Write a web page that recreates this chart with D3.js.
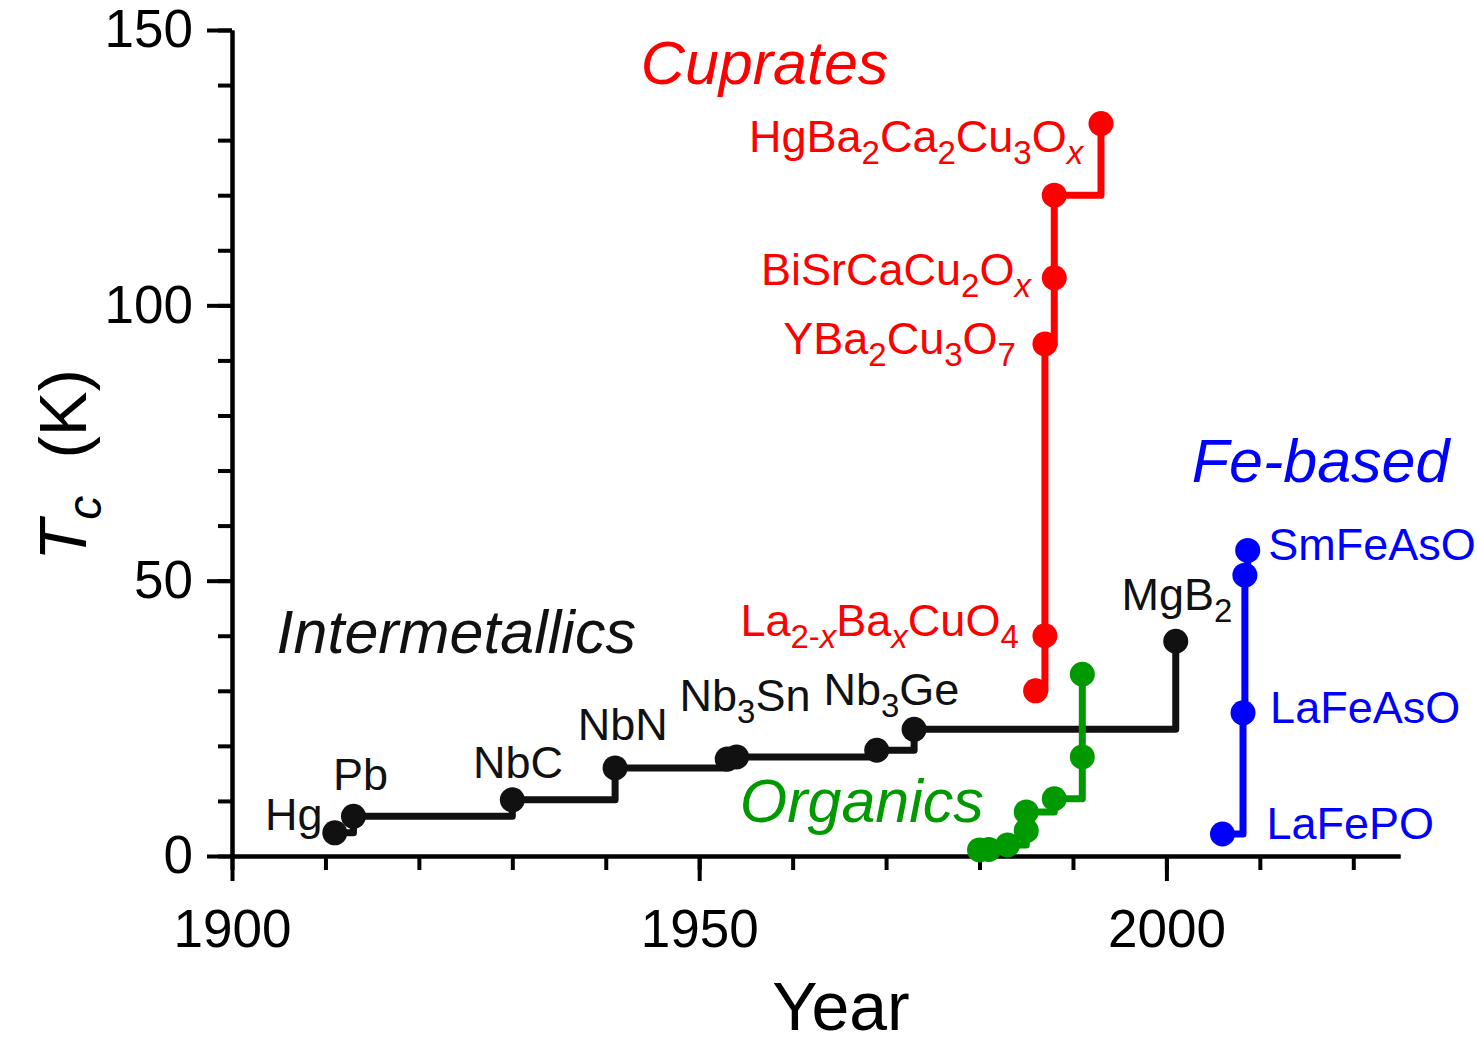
<!DOCTYPE html>
<html>
<head>
<meta charset="utf-8">
<script src="https://cdn.jsdelivr.net/npm/d3@7"></script>
<style>
  html, body { margin: 0; padding: 0; background: #fff; }
  svg text { font-family: "Liberation Sans", Arial, sans-serif; }
</style>
</head>
<body>
<svg id="chart" width="1477" height="1045"></svg>
<script>
// Record superconducting transition temperatures by year of discovery.
const intermetallicYears = [1911, 1913, 1930, 1941, 1953, 1954, 1969, 1973, 2001];
const intermetallicTc    = [4.2, 7.2, 10.2, 16, 17.6, 18, 19.2, 23, 39];

const cuprateYears = [1986, 1987, 1987, 1988, 1988, 1993];
const cuprateTc    = [30, 40, 93, 105, 120, 133];

const organicYears = [1980, 1981, 1983, 1985, 1985, 1988, 1991, 1991];
const organicTc    = [1.1, 1.2, 2, 4.6, 8, 10.4, 18, 33];

const ironYears = [2006, 2008.2, 2008.4, 2008.7];
const ironTc    = [4, 26, 51, 55.5];

const xMajorTicks = [1900, 1950, 2000];
const yMajorTicks = [0, 50, 100, 150];

const svg = d3.select("#chart");

const x = d3.scaleLinear().domain([1900, 2025]).range([232, 1400]);
const y = d3.scaleLinear().domain([0, 150]).range([856, 30]);

const zip = (a, b) => a.map((v, i) => ({ year: v, tc: b[i] }));

// Each material family: its colour, its points
const families = [
  { color: "#111111", pts: zip(intermetallicYears, intermetallicTc) },
  { color: "#ff0000", pts: zip(cuprateYears, cuprateTc) },
  { color: "#009900", pts: zip(organicYears, organicTc) },
  { color: "#0000ff", pts: zip(ironYears, ironTc) }
];

// ---- axes ----
const axisG = svg.append("g");
const xMinor = d3.axisBottom(x).tickValues(d3.range(1900, 2021, 10)).tickSize(14).tickSizeOuter(0).tickFormat("");
const xMajor = d3.axisBottom(x).tickValues(xMajorTicks).tickSize(25).tickSizeOuter(0).tickPadding(28).tickFormat(d3.format("d"));
const yMinor = d3.axisLeft(y).tickValues(d3.range(0, 151, 10)).tickSize(14).tickSizeOuter(0).tickFormat("");
const yMajor = d3.axisLeft(y).tickValues(yMajorTicks).tickSize(25).tickSizeOuter(0).tickPadding(14).tickFormat(d3.format("d"));

function styleAxis(g) {
  g.selectAll("path.domain").attr("stroke", "#000").attr("stroke-width", 4);
  g.selectAll(".tick line").attr("stroke", "#000").attr("stroke-width", 4);
  g.selectAll(".tick text").attr("fill", "#000").attr("font-size", 53)
    .attr("font-family", "'Liberation Sans', Arial, sans-serif");
}
axisG.append("g").attr("transform", `translate(0,${y(0)})`).call(xMinor).call(styleAxis);
axisG.append("g").attr("transform", `translate(0,${y(0)})`).call(xMajor).call(styleAxis);
axisG.append("g").attr("transform", `translate(${x(1900)},0)`).call(yMinor).call(styleAxis);
axisG.append("g").attr("transform", `translate(${x(1900)},0)`).call(yMajor).call(styleAxis);

// axis titles
svg.append("text").attr("x", 841).attr("y", 1030).attr("text-anchor", "middle")
  .attr("font-size", 68).attr("fill", "#000").text("Year");

const yTitle = svg.append("text")
  .attr("transform", "translate(86,465) rotate(-90)")
  .attr("text-anchor", "middle").attr("font-size", 67).attr("fill", "#000");
yTitle.append("tspan").attr("font-style", "italic").text("T");
yTitle.append("tspan").attr("font-style", "italic").attr("font-size", 48).attr("dy", 15).text("c");
yTitle.append("tspan").attr("dy", -15).text("\u00a0\u00a0(K)");

// ---- step lines and markers ----
const line = d3.line().x(d => x(d.year)).y(d => y(d.tc)).curve(d3.curveStepAfter);
const plot = svg.append("g");
families.forEach(f => {
  plot.append("path").datum(f.pts).attr("d", line)
    .attr("fill", "none").attr("stroke", f.color).attr("stroke-width", 7)
    .attr("stroke-linejoin", "round").attr("stroke-linecap", "round");
});
families.forEach(f => {
  plot.selectAll(null).data(f.pts).join("circle")
    .attr("cx", d => x(d.year)).attr("cy", d => y(d.tc)).attr("r", 12.5)
    .attr("fill", f.color);
});

// ---- labels: text parts as [string, kind], kind: n normal, s subscript, si italic subscript ----
const labels = [
  { year: 1909.7, tc: 4.8, anchor: "end", color: "#111", parts: [["Hg", "n"]] },
  { year: 1910.8, tc: 12, anchor: "start", color: "#111", parts: [["Pb", "n"]] },
  { year: 1925.8, tc: 14.2, anchor: "start", color: "#111", parts: [["NbC", "n"]] },
  { year: 1937, tc: 21, anchor: "start", color: "#111", parts: [["NbN", "n"]] },
  { year: 1947.9, tc: 26.3, anchor: "start", color: "#111", parts: [["Nb", "n"], ["3", "s"], ["Sn", "n"]] },
  { year: 1963.3, tc: 27.4, anchor: "start", color: "#111", parts: [["Nb", "n"], ["3", "s"], ["Ge", "n"]] },
  { year: 1995.2, tc: 44.6, anchor: "start", color: "#111", parts: [["MgB", "n"], ["2", "s"]] },
  { year: 1991.1, tc: 127.9, anchor: "end", color: "#ff0000", parts: [["HgBa", "n"], ["2", "s"], ["Ca", "n"], ["2", "s"], ["Cu", "n"], ["3", "s"], ["O", "n"], ["x", "si"]] },
  { year: 1985.5, tc: 103.7, anchor: "end", color: "#ff0000", parts: [["BiSrCaCu", "n"], ["2", "s"], ["O", "n"], ["x", "si"]] },
  { year: 1983.9, tc: 91.1, anchor: "end", color: "#ff0000", parts: [["YBa", "n"], ["2", "s"], ["Cu", "n"], ["3", "s"], ["O", "n"], ["7", "s"]] },
  { year: 1984.2, tc: 40, anchor: "end", color: "#ff0000", parts: [["La", "n"], ["2-", "s"], ["x", "si"], ["Ba", "n"], ["x", "si"], ["CuO", "n"], ["4", "s"]] },
  { year: 2010.9, tc: 53.7, anchor: "start", color: "#0000ff", parts: [["SmFeAsO", "n"]] },
  { year: 2011.1, tc: 24.2, anchor: "start", color: "#0000ff", parts: [["LaFeAsO", "n"]] },
  { year: 2010.7, tc: 3.1, anchor: "start", color: "#0000ff", parts: [["LaFePO", "n"]] }
];

const groupTitles = [
  { year: 1957.0, tc: 140.2, color: "#ff0000", text: "Cuprates" },
  { year: 2016.5, tc: 67.9, color: "#0000ff", text: "Fe-based" },
  { year: 1924.0, tc: 36.8, color: "#111", text: "Intermetallics" },
  { year: 1967.4, tc: 6.2, color: "#009900", text: "Organics" }
];

const labelG = svg.append("g");
labels.forEach(l => {
  const t = labelG.append("text")
    .attr("x", x(l.year)).attr("y", y(l.tc))
    .attr("text-anchor", l.anchor).attr("font-size", 45).attr("fill", l.color);
  let shifted = false;
  l.parts.forEach(([s, kind]) => {
    const sp = t.append("tspan").text(s);
    const isSub = kind !== "n";
    if (isSub && !shifted) { sp.attr("dy", 12); shifted = true; }
    else if (!isSub && shifted) { sp.attr("dy", -12); shifted = false; }
    if (isSub) sp.attr("font-size", 33);
    if (kind === "si") sp.attr("font-style", "italic");
  });
});

groupTitles.forEach(g => {
  labelG.append("text")
    .attr("x", x(g.year)).attr("y", y(g.tc))
    .attr("text-anchor", "middle").attr("font-size", 61).attr("font-style", "italic")
    .attr("fill", g.color).text(g.text);
});
</script>
</body>
</html>
